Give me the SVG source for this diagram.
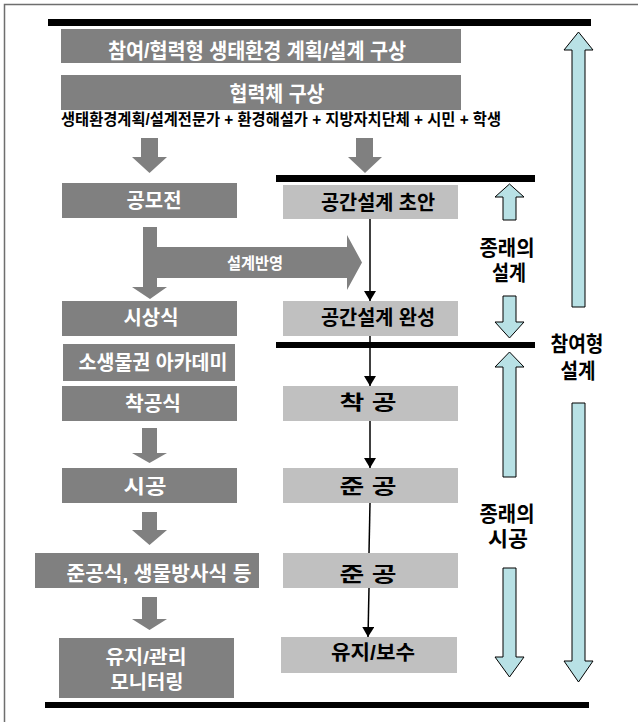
<svg xmlns="http://www.w3.org/2000/svg" width="638" height="722" viewBox="0 0 638 722">
<style>
.dk{fill:#808080}
.lt{fill:#c0c0c0}
.bar{fill:#000}
.bl{fill:#b8e1e5;stroke:#000;stroke-width:1}
.ga{fill:#808080}
.t{font-family:"Liberation Sans","Noto Sans CJK KR",sans-serif;font-weight:bold;text-anchor:middle;dominant-baseline:central}
.w{fill:#fff}
.b{fill:#000}
.ln{stroke:#000;stroke-width:1.5;fill:none}
</style>
<defs>
<marker id="ah" viewBox="0 0 10 12" refX="10" refY="6" markerWidth="10" markerHeight="12" markerUnits="userSpaceOnUse" orient="auto">
<path d="M0,0 L10,6 L0,12 Z" fill="#000"/>
</marker>
</defs>
<rect width="638" height="722" fill="#fff"/>
<path d="M4.5,722 V4.5 H638" fill="none" stroke="#6e6e6e" stroke-width="1.5"/>

<g id="bars">
<rect class="bar" x="48" y="19" width="543" height="7"/>
<rect class="bar" x="276" y="175" width="259" height="7"/>
<rect class="bar" x="276" y="342" width="259" height="6"/>
<rect class="bar" x="45" y="702" width="544" height="6"/>
</g>

<g id="n-plan">
<rect class="dk" x="61" y="29" width="400" height="34"/>
<text class="t w" x="257" y="50" font-size="21" textLength="298" lengthAdjust="spacingAndGlyphs">참여/협력형 생태환경 계획/설계 구상</text>
</g>
<g id="n-coop">
<rect class="dk" x="61" y="75" width="400" height="35"/>
<text class="t w" x="277" y="93.5" font-size="21" textLength="95" lengthAdjust="spacingAndGlyphs">협력체 구상</text>
</g>
<g id="n-members">
<text class="t b" x="281" y="119.5" font-size="16" textLength="440" lengthAdjust="spacingAndGlyphs">생태환경계획/설계전문가 + 환경해설가 + 지방자치단체 + 시민 + 학생</text>
</g>

<g id="n-contest">
<rect class="dk" x="62" y="183" width="175" height="35"/>
<text class="t w" x="154" y="200.5" font-size="20" textLength="55" lengthAdjust="spacingAndGlyphs">공모전</text>
</g>
<g id="n-draft">
<rect class="lt" x="283" y="185" width="175" height="34"/>
<text class="t b" x="378" y="203" font-size="20" textLength="114" lengthAdjust="spacingAndGlyphs">공간설계 초안</text>
</g>
<g id="n-award">
<rect class="dk" x="62" y="301" width="175" height="35"/>
<text class="t w" x="151" y="318" font-size="20" textLength="55" lengthAdjust="spacingAndGlyphs">시상식</text>
</g>
<g id="n-final">
<rect class="lt" x="283" y="301" width="175" height="35"/>
<text class="t b" x="378" y="318" font-size="20" textLength="114" lengthAdjust="spacingAndGlyphs">공간설계 완성</text>
</g>
<g id="n-academy">
<rect class="dk" x="63" y="344" width="172" height="37"/>
<text class="t w" x="153" y="362.5" font-size="20" textLength="149" lengthAdjust="spacingAndGlyphs">소생물권 아카데미</text>
</g>
<g id="n-groundbreak">
<rect class="dk" x="62" y="386" width="175" height="35"/>
<text class="t w" x="153" y="404" font-size="20" textLength="56" lengthAdjust="spacingAndGlyphs">착공식</text>
</g>
<g id="n-start">
<rect class="lt" x="283" y="386" width="175" height="35"/>
<text class="t b" x="368" y="403" font-size="20" textLength="57" lengthAdjust="spacingAndGlyphs">착 공</text>
</g>
<g id="n-build">
<rect class="dk" x="62" y="468" width="175" height="35"/>
<text class="t w" x="145" y="487" font-size="20" textLength="43" lengthAdjust="spacingAndGlyphs">시공</text>
</g>
<g id="n-done1">
<rect class="lt" x="283" y="468" width="175" height="35"/>
<text class="t b" x="368" y="487" font-size="20" textLength="57" lengthAdjust="spacingAndGlyphs">준 공</text>
</g>
<g id="n-ceremony">
<rect class="dk" x="35" y="553" width="224" height="35"/>
<text class="t w" x="159" y="573.5" font-size="20" textLength="185" lengthAdjust="spacingAndGlyphs">준공식, 생물방사식 등</text>
</g>
<g id="n-done2">
<rect class="lt" x="283" y="553" width="175" height="35"/>
<text class="t b" x="368" y="575" font-size="20" textLength="57" lengthAdjust="spacingAndGlyphs">준 공</text>
</g>
<g id="n-manage">
<rect class="dk" x="59" y="638" width="175" height="60"/>
<text class="t w" x="146" y="657" font-size="19" textLength="81" lengthAdjust="spacingAndGlyphs">유지/관리</text>
<text class="t w" x="147" y="682" font-size="19" textLength="73" lengthAdjust="spacingAndGlyphs">모니터링</text>
</g>
<g id="n-maintain">
<rect class="lt" x="281" y="637" width="176" height="36"/>
<text class="t b" x="373" y="653" font-size="20" textLength="84" lengthAdjust="spacingAndGlyphs">유지/보수</text>
</g>

<g id="labels">
<text class="t b" x="507" y="247" font-size="21" textLength="55" lengthAdjust="spacingAndGlyphs">종래의</text>
<text class="t b" x="509" y="272" font-size="21" textLength="34" lengthAdjust="spacingAndGlyphs">설계</text>
<text class="t b" x="577" y="343" font-size="21" textLength="53" lengthAdjust="spacingAndGlyphs">참여형</text>
<text class="t b" x="578" y="370" font-size="21" textLength="35" lengthAdjust="spacingAndGlyphs">설계</text>
<text class="t b" x="507" y="513" font-size="21" textLength="55" lengthAdjust="spacingAndGlyphs">종래의</text>
<text class="t b" x="508" y="538" font-size="21" textLength="40" lengthAdjust="spacingAndGlyphs">시공</text>
</g>

<g id="connectors">
<polygon class="ga" points="141,138 158,138 158,157 167,157 149.5,173 132,157 141,157"/>
<polygon class="ga" points="356,138 373,138 373,157 382,157 365,173 348,157 356,157"/>
<polygon class="ga" points="143,227 157,227 157,247 347,247 347,235 362,262.5 347,290 347,278 157,278 157,287 167,287 150,299 132,287 143,287"/>
<text class="t w" x="255" y="263" font-size="16" textLength="56" lengthAdjust="spacingAndGlyphs">설계반영</text>
<polygon class="ga" points="142,428 157,428 157,453 167,453 149.5,463 132,453 142,453"/>
<polygon class="ga" points="142,512 157,512 157,530 167,530 149.5,545 132,530 142,530"/>
<polygon class="ga" points="142,597 157,597 157,619 167,619 149.5,630 132,619 142,619"/>

<line class="ln" x1="370" y1="219" x2="370" y2="301" marker-end="url(#ah)"/>
<line class="ln" x1="370" y1="336" x2="370" y2="386" marker-end="url(#ah)"/>
<line class="ln" x1="370" y1="421" x2="370" y2="468" marker-end="url(#ah)"/>
<line class="ln" x1="370" y1="503" x2="369" y2="553"/>
<line class="ln" x1="369" y1="588" x2="368" y2="637" marker-end="url(#ah)"/>

<polygon class="bl" points="509.5,184 524,197 516,197 516,220 503,220 503,197 495,197"/>
<polygon class="bl" points="503,296 516,296 516,322 524,322 509.5,338 495,322 503,322"/>
<polygon class="bl" points="509.5,352 524,367 516,367 516,477 503,477 503,367 495,367"/>
<polygon class="bl" points="503,568 516,568 516,657 524,657 509.5,677 495,657 503,657"/>
<polygon class="bl" points="578.5,32 593,50 585,50 585,307 572,307 572,50 564,50"/>
<polygon class="bl" points="572,403 585,403 585,661 593,661 578.5,682 564,661 572,661"/>
</g>
</svg>
